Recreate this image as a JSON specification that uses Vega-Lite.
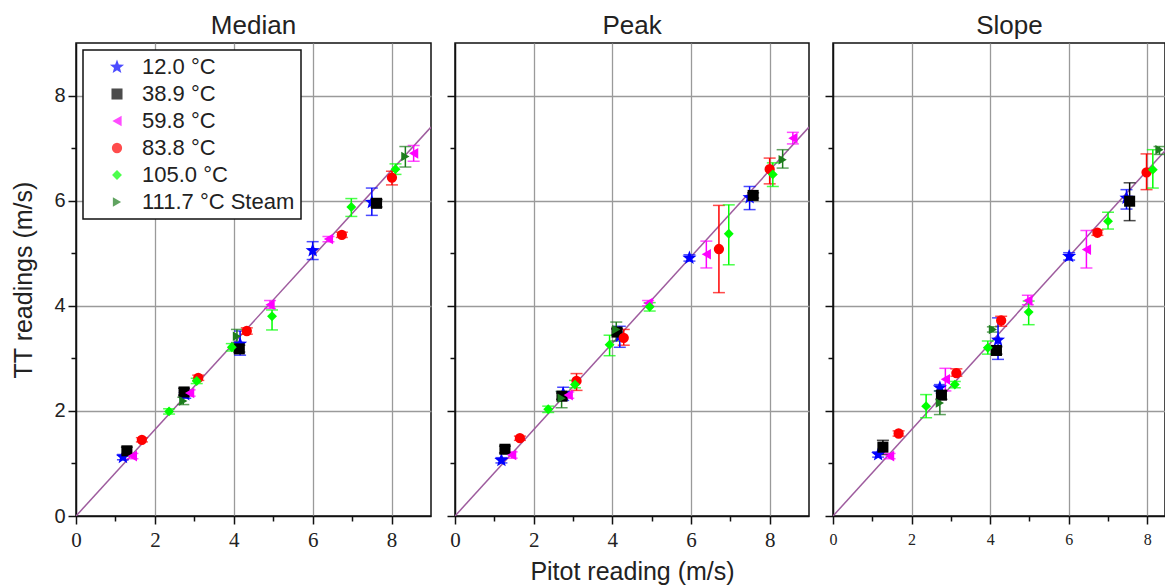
{
  "$schema": "https://vega.github.io/schema/vega-lite/v6.json",
  "background": "white",
  "padding": {"left": 11, "top": 12, "right": 0, "bottom": 0},
  "autosize": {"type": "pad"},
  "spacing": 13,
  "datasets": {
    "fit": [{"x": 0, "y": 0}, {"x": 9, "y": 7.4}],
    "pts": [
      {"p": "M", "s": "12.0 °C", "x": 1.19, "y": 1.12, "lo": 1.07, "hi": 1.17},
      {"p": "M", "s": "12.0 °C", "x": 2.77, "y": 2.31, "lo": 2.24, "hi": 2.39},
      {"p": "M", "s": "12.0 °C", "x": 4.16, "y": 3.27, "lo": 3.06, "hi": 3.52},
      {"p": "M", "s": "12.0 °C", "x": 6.0, "y": 5.05, "lo": 4.88, "hi": 5.22},
      {"p": "M", "s": "12.0 °C", "x": 7.5, "y": 5.97, "lo": 5.72, "hi": 6.24},
      {"p": "M", "s": "38.9 °C", "x": 1.29, "y": 1.24, "lo": 1.17, "hi": 1.31},
      {"p": "M", "s": "38.9 °C", "x": 2.74, "y": 2.36, "lo": 2.3, "hi": 2.43},
      {"p": "M", "s": "38.9 °C", "x": 4.14, "y": 3.18, "lo": 3.12, "hi": 3.25},
      {"p": "M", "s": "38.9 °C", "x": 7.62, "y": 5.95, "lo": 5.88, "hi": 6.02},
      {"p": "M", "s": "59.8 °C", "x": 1.43, "y": 1.14, "lo": 1.09, "hi": 1.19},
      {"p": "M", "s": "59.8 °C", "x": 2.88, "y": 2.34, "lo": 2.28, "hi": 2.4},
      {"p": "M", "s": "59.8 °C", "x": 4.92, "y": 4.02, "lo": 3.95, "hi": 4.1},
      {"p": "M", "s": "59.8 °C", "x": 6.4, "y": 5.27, "lo": 5.22, "hi": 5.32},
      {"p": "M", "s": "59.8 °C", "x": 8.56, "y": 6.9, "lo": 6.75, "hi": 7.05},
      {"p": "M", "s": "83.8 °C", "x": 1.67, "y": 1.45, "lo": 1.41, "hi": 1.49},
      {"p": "M", "s": "83.8 °C", "x": 3.1, "y": 2.63, "lo": 2.58, "hi": 2.68},
      {"p": "M", "s": "83.8 °C", "x": 4.33, "y": 3.52, "lo": 3.46, "hi": 3.58},
      {"p": "M", "s": "83.8 °C", "x": 6.74, "y": 5.35, "lo": 5.3, "hi": 5.4},
      {"p": "M", "s": "83.8 °C", "x": 8.01, "y": 6.44, "lo": 6.3, "hi": 6.56},
      {"p": "M", "s": "105.0 °C", "x": 2.36, "y": 1.99, "lo": 1.94, "hi": 2.04},
      {"p": "M", "s": "105.0 °C", "x": 3.06, "y": 2.57, "lo": 2.52, "hi": 2.62},
      {"p": "M", "s": "105.0 °C", "x": 3.95, "y": 3.21, "lo": 3.14, "hi": 3.28},
      {"p": "M", "s": "105.0 °C", "x": 4.97, "y": 3.8, "lo": 3.54, "hi": 3.92},
      {"p": "M", "s": "105.0 °C", "x": 6.98, "y": 5.88, "lo": 5.7, "hi": 6.04},
      {"p": "M", "s": "105.0 °C", "x": 8.1, "y": 6.6, "lo": 6.5, "hi": 6.7},
      {"p": "M", "s": "111.7 °C Steam", "x": 2.72, "y": 2.19, "lo": 2.12, "hi": 2.26},
      {"p": "M", "s": "111.7 °C Steam", "x": 4.08, "y": 3.42, "lo": 3.3, "hi": 3.55},
      {"p": "M", "s": "111.7 °C Steam", "x": 8.35, "y": 6.84, "lo": 6.64, "hi": 7.03},

      {"p": "P", "s": "12.0 °C", "x": 1.18, "y": 1.06, "lo": 1.01, "hi": 1.11},
      {"p": "P", "s": "12.0 °C", "x": 2.75, "y": 2.33, "lo": 2.2, "hi": 2.45},
      {"p": "P", "s": "12.0 °C", "x": 4.19, "y": 3.42, "lo": 3.21, "hi": 3.61},
      {"p": "P", "s": "12.0 °C", "x": 5.96, "y": 4.91, "lo": 4.85, "hi": 4.97},
      {"p": "P", "s": "12.0 °C", "x": 7.49, "y": 6.06, "lo": 5.83, "hi": 6.27},
      {"p": "P", "s": "38.9 °C", "x": 1.27, "y": 1.27, "lo": 1.2, "hi": 1.33},
      {"p": "P", "s": "38.9 °C", "x": 2.72, "y": 2.28, "lo": 2.22, "hi": 2.34},
      {"p": "P", "s": "38.9 °C", "x": 4.12, "y": 3.5, "lo": 3.44, "hi": 3.56},
      {"p": "P", "s": "38.9 °C", "x": 7.58, "y": 6.1, "lo": 6.05, "hi": 6.15},
      {"p": "P", "s": "59.8 °C", "x": 1.44, "y": 1.16, "lo": 1.1, "hi": 1.22},
      {"p": "P", "s": "59.8 °C", "x": 2.88, "y": 2.3, "lo": 2.24, "hi": 2.36},
      {"p": "P", "s": "59.8 °C", "x": 4.91, "y": 4.05, "lo": 4.0, "hi": 4.1},
      {"p": "P", "s": "59.8 °C", "x": 6.39, "y": 4.98, "lo": 4.72, "hi": 5.23},
      {"p": "P", "s": "59.8 °C", "x": 8.59, "y": 7.19, "lo": 7.08, "hi": 7.3},
      {"p": "P", "s": "83.8 °C", "x": 1.65, "y": 1.48, "lo": 1.44, "hi": 1.52},
      {"p": "P", "s": "83.8 °C", "x": 3.09, "y": 2.57, "lo": 2.39, "hi": 2.71},
      {"p": "P", "s": "83.8 °C", "x": 4.29, "y": 3.39, "lo": 3.25, "hi": 3.55},
      {"p": "P", "s": "83.8 °C", "x": 6.71, "y": 5.08, "lo": 4.25, "hi": 5.91},
      {"p": "P", "s": "83.8 °C", "x": 8.0, "y": 6.6, "lo": 6.32, "hi": 6.81},
      {"p": "P", "s": "105.0 °C", "x": 2.37, "y": 2.03, "lo": 1.97, "hi": 2.09},
      {"p": "P", "s": "105.0 °C", "x": 3.05, "y": 2.5, "lo": 2.44, "hi": 2.58},
      {"p": "P", "s": "105.0 °C", "x": 3.93, "y": 3.26, "lo": 3.05, "hi": 3.44},
      {"p": "P", "s": "105.0 °C", "x": 4.95, "y": 3.98, "lo": 3.9, "hi": 4.06},
      {"p": "P", "s": "105.0 °C", "x": 6.96, "y": 5.37, "lo": 4.78, "hi": 5.92},
      {"p": "P", "s": "105.0 °C", "x": 8.08, "y": 6.5, "lo": 6.27, "hi": 6.72},
      {"p": "P", "s": "111.7 °C Steam", "x": 2.71, "y": 2.24, "lo": 2.06, "hi": 2.37},
      {"p": "P", "s": "111.7 °C Steam", "x": 4.1, "y": 3.55, "lo": 3.33, "hi": 3.69},
      {"p": "P", "s": "111.7 °C Steam", "x": 8.33, "y": 6.78, "lo": 6.62, "hi": 6.97},

      {"p": "S", "s": "12.0 °C", "x": 1.15, "y": 1.17, "lo": 1.12, "hi": 1.22},
      {"p": "S", "s": "12.0 °C", "x": 2.72, "y": 2.44, "lo": 2.38, "hi": 2.5},
      {"p": "S", "s": "12.0 °C", "x": 4.2, "y": 3.35, "lo": 2.98, "hi": 3.77},
      {"p": "S", "s": "12.0 °C", "x": 6.01, "y": 4.94, "lo": 4.87, "hi": 5.01},
      {"p": "S", "s": "12.0 °C", "x": 7.47, "y": 6.05, "lo": 5.84, "hi": 6.21},
      {"p": "S", "s": "38.9 °C", "x": 1.27, "y": 1.31, "lo": 1.17, "hi": 1.44},
      {"p": "S", "s": "38.9 °C", "x": 2.76, "y": 2.3, "lo": 2.22, "hi": 2.38},
      {"p": "S", "s": "38.9 °C", "x": 4.16, "y": 3.15, "lo": 3.08, "hi": 3.22},
      {"p": "S", "s": "38.9 °C", "x": 7.55, "y": 5.99, "lo": 5.62, "hi": 6.34},
      {"p": "S", "s": "59.8 °C", "x": 1.44, "y": 1.14, "lo": 1.09, "hi": 1.19},
      {"p": "S", "s": "59.8 °C", "x": 2.86, "y": 2.6, "lo": 2.38, "hi": 2.81},
      {"p": "S", "s": "59.8 °C", "x": 4.96, "y": 4.1, "lo": 4.02, "hi": 4.2},
      {"p": "S", "s": "59.8 °C", "x": 6.45, "y": 5.07, "lo": 4.72, "hi": 5.43},
      {"p": "S", "s": "83.8 °C", "x": 1.67, "y": 1.57, "lo": 1.52, "hi": 1.62},
      {"p": "S", "s": "83.8 °C", "x": 3.14, "y": 2.72, "lo": 2.66, "hi": 2.8},
      {"p": "S", "s": "83.8 °C", "x": 4.28, "y": 3.72, "lo": 3.61, "hi": 3.8},
      {"p": "S", "s": "83.8 °C", "x": 6.73, "y": 5.39, "lo": 5.34, "hi": 5.44},
      {"p": "S", "s": "83.8 °C", "x": 7.98, "y": 6.54, "lo": 6.21, "hi": 6.89},
      {"p": "S", "s": "105.0 °C", "x": 2.37, "y": 2.09, "lo": 1.87, "hi": 2.31},
      {"p": "S", "s": "105.0 °C", "x": 3.1, "y": 2.5, "lo": 2.44, "hi": 2.56},
      {"p": "S", "s": "105.0 °C", "x": 3.94, "y": 3.2, "lo": 3.08, "hi": 3.33},
      {"p": "S", "s": "105.0 °C", "x": 4.98, "y": 3.88, "lo": 3.64, "hi": 4.09},
      {"p": "S", "s": "105.0 °C", "x": 7.0, "y": 5.61, "lo": 5.46, "hi": 5.78},
      {"p": "S", "s": "105.0 °C", "x": 8.14, "y": 6.59, "lo": 6.24, "hi": 6.97},
      {"p": "S", "s": "111.7 °C Steam", "x": 2.72, "y": 2.15, "lo": 1.93, "hi": 2.38},
      {"p": "S", "s": "111.7 °C Steam", "x": 4.07, "y": 3.55, "lo": 3.5, "hi": 3.6},
      {"p": "S", "s": "111.7 °C Steam", "x": 8.31, "y": 6.97, "lo": 6.88, "hi": 7.03}
    ]
  },
  "hconcat": [
    {
      "width": 355, "height": 473,
      "title": "Median",
      "layer": [
        {"data": {"name": "fit"}, "mark": {"type": "line", "color": "#9e5c9e", "strokeWidth": 1.5, "clip": true},
         "encoding": {
           "x": {"field": "x", "type": "quantitative", "scale": {"domain": [0, 9], "nice": false, "zero": false},
             "axis": {"title": null, "values": [0,1,2,3,4,5,6,7,8], "format": "d", "labelExpr": "datum.value % 2 == 0 ? datum.label : ''",
               "gridOpacity": {"condition": {"test": "datum.value % 2 == 0 && datum.value > 0", "value": 1}, "value": 0},
               "tickSize": {"condition": {"test": "datum.value % 2 == 0", "value": 8}, "value": 5},
               "labelFont": "Liberation Sans Narrow", "labelFontSize": 21, "labelPadding": 5}},
           "y": {"field": "y", "type": "quantitative", "title": "TT readings (m/s)", "scale": {"domain": [0, 9], "nice": false, "zero": false},
             "axis": {"title": "TT readings (m/s)", "values": [0,1,2,3,4,5,6,7,8], "format": "d", "labelExpr": "datum.value % 2 == 0 ? datum.label : ''",
               "gridOpacity": {"condition": {"test": "datum.value % 2 == 0 && datum.value > 0", "value": 1}, "value": 0},
               "tickSize": {"condition": {"test": "datum.value % 2 == 0", "value": 8}, "value": 5},
               "labelFontSize": 20, "labelPadding": 3, "titlePadding": 17}}
         }},
        {"data": {"name": "pts"}, "transform": [{"filter": "datum.p == 'M'"}],
         "mark": {"type": "errorbar", "ticks": {"size": 12}, "thickness": 1.5},
         "encoding": {
           "x": {"field": "x", "type": "quantitative", "title": null},
           "y": {"field": "lo", "type": "quantitative", "title": "TT readings (m/s)"},
           "y2": {"field": "hi"},
           "color": {"field": "s", "type": "nominal", "title": null, "scale": {"domain": ["12.0 °C", "38.9 °C", "59.8 °C", "83.8 °C", "105.0 °C", "111.7 °C Steam"], "range": ["#0000ff", "#000000", "#ff00ff", "#ff0000", "#00ff00", "#1c7c1c"]}}
         }},
        {"data": {"name": "pts"}, "transform": [{"filter": "datum.p == 'M'"}],
         "mark": {"type": "point", "filled": true, "opacity": 1},
         "encoding": {
           "x": {"field": "x", "type": "quantitative", "title": null},
           "y": {"field": "y", "type": "quantitative", "title": "TT readings (m/s)"},
           "size": {"field": "s", "type": "nominal", "title": null, "scale": {"domain": ["12.0 °C", "38.9 °C", "59.8 °C", "83.8 °C", "105.0 °C", "111.7 °C Steam"], "range": [130, 90, 125, 115, 155, 125]}},
           "color": {"field": "s", "type": "nominal", "title": null, "scale": {"domain": ["12.0 °C", "38.9 °C", "59.8 °C", "83.8 °C", "105.0 °C", "111.7 °C Steam"], "range": ["#0000ff", "#000000", "#ff00ff", "#ff0000", "#00ff00", "#1c7c1c"]}},
           "shape": {"field": "s", "type": "nominal", "title": null, "scale": {"domain": ["12.0 °C", "38.9 °C", "59.8 °C", "83.8 °C", "105.0 °C", "111.7 °C Steam"], "range": ["M0,-1.3L0.323,-0.445L1.236,-0.402L0.523,0.17L0.764,1.052L0,0.55L-0.764,1.052L-0.523,0.17L-1.236,-0.402L-0.323,-0.445Z", "square", "triangle-left", "circle", "diamond", "triangle-right"]}}
         }}
      ]
    },
    {
      "width": 354, "height": 473,
      "title": "Peak",
      "layer": [
        {"data": {"name": "fit"}, "mark": {"type": "line", "color": "#9e5c9e", "strokeWidth": 1.5, "clip": true},
         "encoding": {
           "x": {"field": "x", "type": "quantitative", "title": "Pitot reading (m/s)", "scale": {"domain": [0, 9], "nice": false, "zero": false},
             "axis": {"title": "Pitot reading (m/s)", "values": [0,1,2,3,4,5,6,7,8], "format": "d", "labelExpr": "datum.value % 2 == 0 ? datum.label : ''",
               "gridOpacity": {"condition": {"test": "datum.value % 2 == 0 && datum.value > 0", "value": 1}, "value": 0},
               "tickSize": {"condition": {"test": "datum.value % 2 == 0", "value": 8}, "value": 5},
               "labelFont": "Liberation Sans Narrow", "labelFontSize": 21, "labelPadding": 5, "titlePadding": 9}},
           "y": {"field": "y", "type": "quantitative", "scale": {"domain": [0, 9], "nice": false, "zero": false},
             "axis": {"title": null, "labels": false, "values": [0,1,2,3,4,5,6,7,8],
               "gridOpacity": {"condition": {"test": "datum.value % 2 == 0 && datum.value > 0", "value": 1}, "value": 0},
               "tickSize": {"condition": {"test": "datum.value % 2 == 0", "value": 8}, "value": 5}}}
         }},
        {"data": {"name": "pts"}, "transform": [{"filter": "datum.p == 'P'"}],
         "mark": {"type": "errorbar", "ticks": {"size": 12}, "thickness": 1.5},
         "encoding": {
           "x": {"field": "x", "type": "quantitative", "title": "Pitot reading (m/s)"},
           "y": {"field": "lo", "type": "quantitative", "title": null},
           "y2": {"field": "hi"},
           "color": {"field": "s", "type": "nominal", "legend": null, "scale": {"domain": ["12.0 °C", "38.9 °C", "59.8 °C", "83.8 °C", "105.0 °C", "111.7 °C Steam"], "range": ["#0000ff", "#000000", "#ff00ff", "#ff0000", "#00ff00", "#1c7c1c"]}}
         }},
        {"data": {"name": "pts"}, "transform": [{"filter": "datum.p == 'P'"}],
         "mark": {"type": "point", "filled": true, "opacity": 1},
         "encoding": {
           "x": {"field": "x", "type": "quantitative", "title": "Pitot reading (m/s)"},
           "y": {"field": "y", "type": "quantitative", "title": null},
           "size": {"field": "s", "type": "nominal", "legend": null, "scale": {"domain": ["12.0 °C", "38.9 °C", "59.8 °C", "83.8 °C", "105.0 °C", "111.7 °C Steam"], "range": [130, 90, 125, 115, 155, 125]}},
           "color": {"field": "s", "type": "nominal", "legend": null, "scale": {"domain": ["12.0 °C", "38.9 °C", "59.8 °C", "83.8 °C", "105.0 °C", "111.7 °C Steam"], "range": ["#0000ff", "#000000", "#ff00ff", "#ff0000", "#00ff00", "#1c7c1c"]}},
           "shape": {"field": "s", "type": "nominal", "legend": null, "scale": {"domain": ["12.0 °C", "38.9 °C", "59.8 °C", "83.8 °C", "105.0 °C", "111.7 °C Steam"], "range": ["M0,-1.3L0.323,-0.445L1.236,-0.402L0.523,0.17L0.764,1.052L0,0.55L-0.764,1.052L-0.523,0.17L-1.236,-0.402L-0.323,-0.445Z", "square", "triangle-left", "circle", "diamond", "triangle-right"]}}
         }}
      ]
    },
    {
      "width": 332, "height": 473,
      "title": {"text": "Slope", "anchor": "start", "dx": 152},
      "layer": [
        {"data": {"name": "fit"}, "mark": {"type": "line", "color": "#9e5c9e", "strokeWidth": 1.5, "clip": true},
         "encoding": {
           "x": {"field": "x", "type": "quantitative", "scale": {"domain": [0, 8.45], "nice": false, "zero": false},
             "axis": {"title": null, "values": [0,1,2,3,4,5,6,7,8], "format": "d", "labelExpr": "datum.value % 2 == 0 ? datum.label : ''",
               "gridOpacity": {"condition": {"test": "datum.value % 2 == 0 && datum.value > 0", "value": 1}, "value": 0},
               "tickSize": {"condition": {"test": "datum.value % 2 == 0", "value": 8}, "value": 5},
               "labelFont": "Liberation Sans Narrow", "labelFontSize": 16, "labelPadding": 7}},
           "y": {"field": "y", "type": "quantitative", "scale": {"domain": [0, 9], "nice": false, "zero": false},
             "axis": {"title": null, "labels": false, "values": [0,1,2,3,4,5,6,7,8],
               "gridOpacity": {"condition": {"test": "datum.value % 2 == 0 && datum.value > 0", "value": 1}, "value": 0},
               "tickSize": {"condition": {"test": "datum.value % 2 == 0", "value": 8}, "value": 5}}}
         }},
        {"data": {"name": "pts"}, "transform": [{"filter": "datum.p == 'S'"}],
         "mark": {"type": "errorbar", "ticks": {"size": 12}, "thickness": 1.5},
         "encoding": {
           "x": {"field": "x", "type": "quantitative", "title": null},
           "y": {"field": "lo", "type": "quantitative", "title": null},
           "y2": {"field": "hi"},
           "color": {"field": "s", "type": "nominal", "legend": null, "scale": {"domain": ["12.0 °C", "38.9 °C", "59.8 °C", "83.8 °C", "105.0 °C", "111.7 °C Steam"], "range": ["#0000ff", "#000000", "#ff00ff", "#ff0000", "#00ff00", "#1c7c1c"]}}
         }},
        {"data": {"name": "pts"}, "transform": [{"filter": "datum.p == 'S'"}],
         "mark": {"type": "point", "filled": true, "opacity": 1},
         "encoding": {
           "x": {"field": "x", "type": "quantitative", "title": null},
           "y": {"field": "y", "type": "quantitative", "title": null},
           "size": {"field": "s", "type": "nominal", "legend": null, "scale": {"domain": ["12.0 °C", "38.9 °C", "59.8 °C", "83.8 °C", "105.0 °C", "111.7 °C Steam"], "range": [130, 90, 125, 115, 155, 125]}},
           "color": {"field": "s", "type": "nominal", "legend": null, "scale": {"domain": ["12.0 °C", "38.9 °C", "59.8 °C", "83.8 °C", "105.0 °C", "111.7 °C Steam"], "range": ["#0000ff", "#000000", "#ff00ff", "#ff0000", "#00ff00", "#1c7c1c"]}},
           "shape": {"field": "s", "type": "nominal", "legend": null, "scale": {"domain": ["12.0 °C", "38.9 °C", "59.8 °C", "83.8 °C", "105.0 °C", "111.7 °C Steam"], "range": ["M0,-1.3L0.323,-0.445L1.236,-0.402L0.523,0.17L0.764,1.052L0,0.55L-0.764,1.052L-0.523,0.17L-1.236,-0.402L-0.323,-0.445Z", "square", "triangle-left", "circle", "diamond", "triangle-right"]}}
         }}
      ]
    }
  ],
  "resolve": {
    "scale": {"color": "independent", "shape": "independent", "size": "independent"},
    "legend": {"color": "independent", "shape": "independent", "size": "independent"}
  },
  "config": {
    "view": {"stroke": "#111", "strokeWidth": 1.5},
    "title": {"font": "Liberation Sans", "fontSize": 26, "fontWeight": "normal", "color": "#222", "offset": 4},
    "axis": {
      "domainColor": "#111", "domainWidth": 1.5, "tickColor": "#111", "tickWidth": 1.5,
      "grid": true, "gridColor": "#9a9a9a", "gridWidth": 1.3,
      "labelColor": "#222", "labelFont": "Liberation Sans", "labelFontSize": 20,
      "labelFlush": false, "labelOverlap": false,
      "titleFont": "Liberation Sans", "titleFontSize": 25, "titleFontWeight": "normal", "titleColor": "#222"
    },
    "legend": {
      "orient": "top-left", "offset": 7, "padding": 6,
      "strokeColor": "#111", "strokeWidth": 1.5, "fillColor": "white",
      "labelFont": "Liberation Sans", "labelFontSize": 22, "labelColor": "#222",
      "symbolSize": 150, "symbolOffset": 17, "labelOffset": 14, "rowPadding": 5, "symbolStrokeWidth": 0
    }
  }
}
